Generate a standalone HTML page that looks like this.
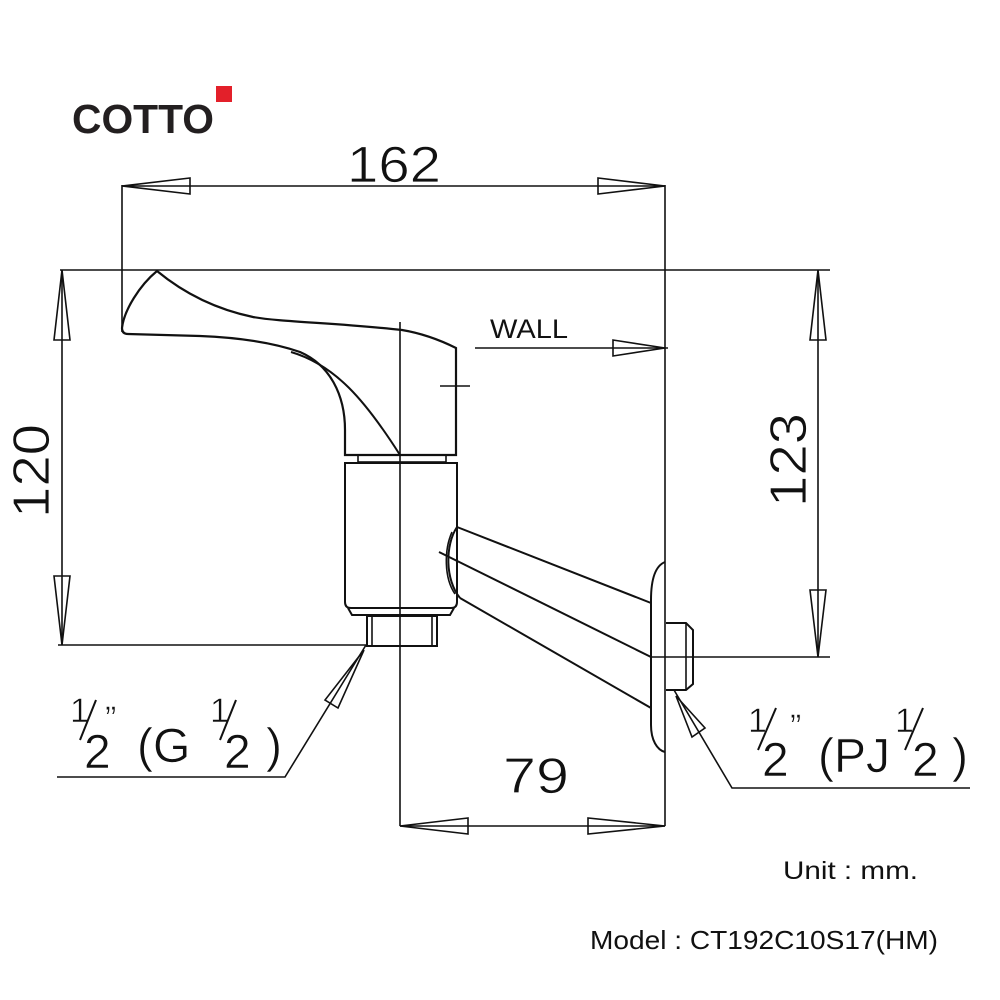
<!DOCTYPE html>
<html><head><meta charset="utf-8"><style>
html,body{margin:0;padding:0;background:#fff;width:1000px;height:1000px;overflow:hidden}
svg text{font-family:"Liberation Sans",sans-serif}
</style></head><body>
<svg width="1000" height="1000" viewBox="0 0 1000 1000" xmlns="http://www.w3.org/2000/svg">
<rect width="1000" height="1000" fill="#fff"/>
<!-- logo -->
<text x="72" y="133" font-size="41" font-weight="bold" fill="#231f20" textLength="142" lengthAdjust="spacingAndGlyphs">COTTO</text>
<rect x="216" y="86" width="16" height="16" fill="#e3202a"/>

<g stroke="#111" stroke-width="1.6" fill="none">
<line x1="60" y1="270" x2="830" y2="270"/>
<line x1="122" y1="185" x2="122" y2="332"/>
<line x1="665" y1="185" x2="665" y2="826"/>
<line x1="400" y1="322" x2="400" y2="826"/>
<line x1="58" y1="645" x2="366" y2="645"/>
<line x1="651" y1="657" x2="830" y2="657"/>

<line x1="122" y1="186" x2="665" y2="186"/>
<path d="M122 186 L190 178 L190 194 Z"/>
<path d="M665 186 L598 178 L598 194 Z"/>
<line x1="400" y1="826" x2="665" y2="826"/>
<path d="M400 826 L468 818 L468 834 Z"/>
<path d="M665 826 L588 818 L588 834 Z"/>
<line x1="62" y1="270" x2="62" y2="645"/>
<path d="M62 270 L54 340 L70 340 Z"/>
<path d="M62 645 L54 576 L70 576 Z"/>
<line x1="818" y1="270" x2="818" y2="657"/>
<path d="M818 270 L810 340 L826 340 Z"/>
<path d="M818 657 L810 590 L826 590 Z"/>
<line x1="475" y1="348" x2="668" y2="348"/>
<path d="M665 348 L613 340 L613 356 Z"/>

<path d="M157 271 C140 285 124 310 122 328 Q122 334 128 334 L200 336 C250 338 280 345 300 352 C330 365 345 395 345 430 L345 455 L456 455 L456 348 C440 340 420 333 402 330 C340 323 280 322 253 317 C210 308 180 290 157 271 Z" stroke-width="2.2"/>
<path d="M291 352 C335 365 365 400 400 455" stroke-width="2"/>
<line x1="440" y1="386" x2="470" y2="386"/>
<rect x="358" y="455" width="88" height="7"/>
<path d="M345 463 L457 463 L457 602 Q457 608 451 608 L351 608 Q345 608 345 602 Z" stroke-width="2"/>
<path d="M348 608 L352 615 L450 615 L454 608" stroke-width="2"/>
<rect x="367" y="616" width="70" height="30" stroke-width="2"/>
<line x1="372" y1="616" x2="372" y2="646"/>
<line x1="432" y1="616" x2="432" y2="646"/>
<path d="M457 527 C445 545 445 580 460 598" stroke-width="2"/>
<path d="M452 532 C444 550 444 578 455 594"/>
<line x1="457" y1="527" x2="651" y2="603" stroke-width="2"/>
<line x1="439" y1="552" x2="651" y2="657" stroke-width="2"/>
<line x1="460" y1="598" x2="651" y2="708" stroke-width="2"/>
<path d="M665 562 C655 566 651 580 651 600 L651 725 C651 740 657 750 665 752" stroke-width="2"/>
<path d="M666 623 L686 623 L693 630 L693 684 L686 690 L666 690" stroke-width="2"/>
<line x1="686" y1="623" x2="686" y2="690"/>

<path d="M366 645 L285 777 L57 777"/>
<path d="M364 650 L325 700 L338 708 Z"/>
<path d="M674 690 L732 788 L970 788"/>
<path d="M676 696 L692 737 L705 728 Z"/>
</g>

<g fill="#111" stroke="#fff" stroke-width="0.8">
<text x="347" y="182" font-size="51" textLength="94" lengthAdjust="spacingAndGlyphs">162</text>
<text x="503" y="793" font-size="50" textLength="66" lengthAdjust="spacingAndGlyphs">79</text>
<text transform="translate(49,518) rotate(-90)" font-size="52" textLength="94" lengthAdjust="spacingAndGlyphs">120</text>
<text transform="translate(806,507) rotate(-90)" font-size="52" textLength="94" lengthAdjust="spacingAndGlyphs">123</text>
</g>
<g fill="#111">
<text x="490" y="338" font-size="27" textLength="78" lengthAdjust="spacingAndGlyphs">WALL</text>
<text x="783" y="879" font-size="25" textLength="135" lengthAdjust="spacingAndGlyphs">Unit : mm.</text>
<text x="590" y="949" font-size="26" textLength="348" lengthAdjust="spacingAndGlyphs">Model : CT192C10S17(HM)</text>
</g>

<g fill="#111" stroke="#fff" stroke-width="0.6">
<text x="70" y="722" font-size="34">1</text>
<text x="84" y="768" font-size="48">2</text>
<text x="105" y="730" font-size="34">”</text>
<text x="137" y="762" font-size="48">(G</text>
<text x="210" y="722" font-size="34">1</text>
<text x="224" y="768" font-size="48">2</text>
<text x="266" y="762" font-size="48">)</text>
<text x="748" y="732" font-size="34">1</text>
<text x="762" y="776" font-size="48">2</text>
<text x="790" y="738" font-size="34">”</text>
<text x="818" y="772" font-size="48">(PJ</text>
<text x="895" y="732" font-size="34">1</text>
<text x="912" y="776" font-size="48">2</text>
<text x="952" y="772" font-size="48">)</text>
</g>
<g stroke="#111" stroke-width="2">
<line x1="80" y1="740" x2="96" y2="700"/>
<line x1="220" y1="740" x2="236" y2="700"/>
<line x1="758" y1="750" x2="776" y2="708"/>
<line x1="905" y1="750" x2="923" y2="708"/>
</g>
</svg>
</body></html>
